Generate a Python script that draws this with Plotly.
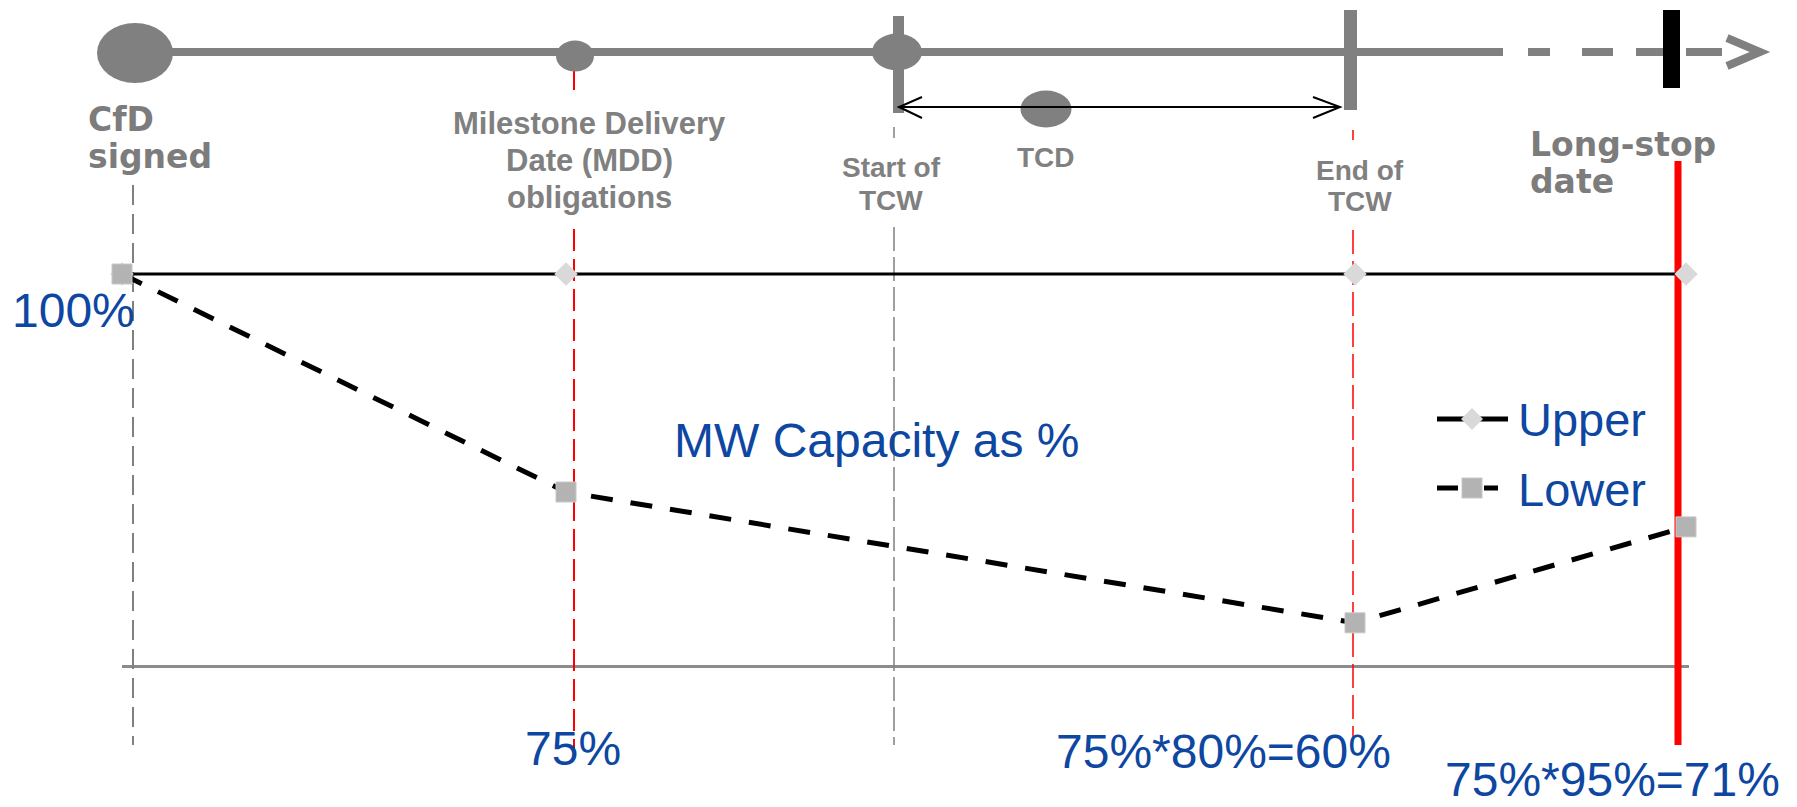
import plotly.graph_objects as go

# ---------------------------------------------------------------------------
# Data
# ---------------------------------------------------------------------------
# Capacity checkpoints along the timeline (CfD signed, MDD, end of TCW, long-stop)
checkpoint_names = ["CfD signed", "MDD", "End of TCW", "Long-stop date"]
checkpoint_pos = [122, 566, 1355, 1686]
upper_pct = [100, 100, 100, 100]
lower_pct = [100, 75, 60, 71]
value_labels = ["100%", "75%", "75%*80%=60%", "75%*95%=71%"]

# Milestone positions on the project timeline
milestone_names = ["CfD signed", "MDD", "Start of TCW", "TCD", "End of TCW", "Long-stop date"]
milestone_pos = [133, 574, 894, 1046, 1353, 1678]

# ---------------------------------------------------------------------------
# Canvas / scale set-up
# ---------------------------------------------------------------------------
W, H = 1797, 807
ROW_100 = 274          # screen row of the 100 % level
PX_PER_PCT = 8.72      # vertical pixels per percentage point
Y_TOP = 100 + ROW_100 / PX_PER_PCT
Y_BOT = 100 - (H - ROW_100) / PX_PER_PCT
AXIS_PCT = 55          # level of the horizontal base line


def row(p):
    """Convert a screen row into the percentage scale of the y axis."""
    return 100 - (p - ROW_100) / PX_PER_PCT


GREY = "#808080"
BLUE = "#0D47A1"
RED = "#FF0000"

fig = go.Figure()

# ---------------------------------------------------------------------------
# Capacity series
# ---------------------------------------------------------------------------
fig.add_trace(go.Scatter(
    x=checkpoint_pos, y=upper_pct, name="Upper", mode="lines+markers",
    line=dict(color="black", width=3),
    marker=dict(symbol="diamond", size=18, color="#d9d9d9"),
    hoverinfo="skip",
))
fig.add_trace(go.Scatter(
    x=checkpoint_pos, y=lower_pct, name="Lower", mode="lines+markers",
    line=dict(color="black", width=5, dash="22px,18px"),
    marker=dict(symbol="square", size=20, color="#b3b3b3",
                line=dict(color="#c8c8c8", width=1)),
    hoverinfo="skip",
))

shapes = []


def hline(x0, x1, p, color, width, dash=None):
    shapes.append(dict(type="line", xref="x", yref="y", x0=x0, x1=x1,
                       y0=row(p), y1=row(p), layer="below",
                       line=dict(color=color, width=width, dash=dash)))


def vline(x, p0, p1, color, width, dash=None):
    shapes.append(dict(type="line", xref="x", yref="y", x0=x, x1=x,
                       y0=row(p0), y1=row(p1), layer="below",
                       line=dict(color=color, width=width, dash=dash)))


def rect(x0, x1, p0, p1, color):
    shapes.append(dict(type="rect", xref="x", yref="y", x0=x0, x1=x1,
                       y0=row(p0), y1=row(p1), layer="below",
                       fillcolor=color, line=dict(width=0)))


def ellipse(cx, cp, rx, ry, color):
    shapes.append(dict(type="circle", xref="x", yref="y",
                       x0=cx - rx, x1=cx + rx, y0=row(cp - ry), y1=row(cp + ry),
                       layer="below", fillcolor=color, line=dict(width=0)))


def polyline(points, color, width):
    d = "M " + " L ".join(f"{x},{row(p)}" for x, p in points)
    shapes.append(dict(type="path", xref="x", yref="y", path=d, layer="below",
                       line=dict(color=color, width=width)))


# Base line of the capacity chart
hline(122, 1689, ROW_100 + (100 - AXIS_PCT) * PX_PER_PCT, "#8c8c8c", 3)

# Milestone drop lines
cfd, mdd, tcw_s, tcd, tcw_e, lsd = milestone_pos
vline(cfd, 185, 745, GREY, 2, "20px,9px")
vline(mdd, 69, 90, RED, 2)
vline(mdd, 229, 748, RED, 2, "22px,8px")
vline(tcw_s, 127, 138, GREY, 1.5)
vline(tcw_s, 227, 745, GREY, 1.5, "24px,6px")
vline(tcw_e, 130, 140, RED, 1.5)
vline(tcw_e, 230, 737, RED, 1.5, "24px,7px")
vline(lsd, 161, 745, RED, 7)

# ---------------------------------------------------------------------------
# Project timeline across the top
# ---------------------------------------------------------------------------
TL = 52
hline(135, 1503, TL, GREY, 8)
for a, b in [(1528, 1550), (1582, 1613), (1636, 1668), (1686, 1722)]:
    hline(a, b, TL, GREY, 8)
polyline([(1727, 38), (1760, TL), (1727, 66)], GREY, 8)

ellipse(cfd + 2, 53, 38, 30, GREY)                 # CfD signed
ellipse(mdd + 1, 56, 19, 15.5, GREY)               # MDD
rect(tcw_s - 1, tcw_s + 10, 16, 113, GREY)         # start of TCW
ellipse(tcw_s + 3, TL, 25, 18.5, GREY)
ellipse(tcd, 109, 25.5, 18.5, GREY)                # TCD
rect(tcw_e - 9, tcw_e + 4, 10, 110, GREY)          # end of TCW
rect(lsd - 15, lsd + 2, 10, 88, "black")           # long-stop date

# Target commissioning window arrow
hline(tcw_s + 4, tcw_e - 13, 107, "black", 2)
polyline([(tcw_s + 28, 97), (tcw_s + 5, 107), (tcw_s + 28, 118)], "black", 2)
polyline([(tcw_e - 40, 97), (tcw_e - 13, 107), (tcw_e - 40, 118)], "black", 2)

# ---------------------------------------------------------------------------
# Legend (drawn by hand so the samples are wide like the labels)
# ---------------------------------------------------------------------------
hline(1437, 1508, 419, "black", 5)
shapes.append(dict(type="path", xref="x", yref="y", layer="above",
                   path=(f"M 1472,{row(408)} L 1483,{row(419)} "
                         f"L 1472,{row(430)} L 1461,{row(419)} Z"),
                   fillcolor="#d9d9d9", line=dict(width=0)))
hline(1437, 1458, 488, "black", 5)
hline(1484, 1498, 488, "black", 5)
shapes.append(dict(type="rect", xref="x", yref="y", layer="above",
                   x0=1462, x1=1482, y0=row(478), y1=row(498),
                   fillcolor="#b3b3b3", line=dict(color="#c8c8c8", width=1)))

fig.update_layout(shapes=shapes)

# ---------------------------------------------------------------------------
# Text
# ---------------------------------------------------------------------------
def label(text, x, baseline, size, color, family, anchor="center", bold=False):
    if bold:
        text = f"<b>{text}</b>"
    fig.add_annotation(x=x, y=row(baseline - 0.35 * size), text=text,
                       xref="x", yref="y", xanchor=anchor, yanchor="middle",
                       showarrow=False, borderpad=0,
                       font=dict(size=size, color=color, family=family))


NARROW = "Liberation Sans, Arial, sans-serif"
WIDE = "DejaVu Sans, Verdana, sans-serif"

# Milestone captions
label("CfD", 87, 131, 33, "#7c7c7c", WIDE, "left", True)
label("signed", 87, 168, 33, "#7c7c7c", WIDE, "left", True)
label("Milestone Delivery", 589, 134, 31, GREY, NARROW, bold=True)
label("Date (MDD)", 589, 171, 31, GREY, NARROW, bold=True)
label("obligations", 589, 208, 31, GREY, NARROW, bold=True)
label("Start of", 891, 177, 28, GREY, NARROW, bold=True)
label("TCW", 891, 210, 28, GREY, NARROW, bold=True)
label("TCD", tcd, 167, 28, GREY, NARROW, bold=True)
label("End of", 1360, 180, 28, GREY, NARROW, bold=True)
label("TCW", 1360, 211, 28, GREY, NARROW, bold=True)
label("Long-stop", 1529, 156, 33, "#7c7c7c", WIDE, "left", True)
label("date", 1529, 193, 33, "#7c7c7c", WIDE, "left", True)

# Capacity labels
label(value_labels[0], 73, 327, 48, BLUE, NARROW)
label(value_labels[1], 573, 765, 48, BLUE, NARROW)
label(value_labels[2], 1223, 768, 48, BLUE, NARROW)
label(value_labels[3], 1612, 796, 48, BLUE, NARROW)
label("MW Capacity as %", 876, 457, 48, BLUE, NARROW)

# Legend labels
label("Upper", 1517, 436, 47, BLUE, NARROW, "left")
label("Lower", 1517, 506, 47, BLUE, NARROW, "left")

fig.update_layout(
    width=W, height=H,
    margin=dict(l=0, r=0, t=0, b=0),
    paper_bgcolor="white",
    plot_bgcolor="rgba(0,0,0,0)",
    showlegend=False,
    xaxis=dict(range=[0, W], visible=False, fixedrange=True),
    yaxis=dict(range=[Y_BOT, Y_TOP], visible=False, fixedrange=True),
)

fig.write_html("out.html", config={"displayModeBar": False})
